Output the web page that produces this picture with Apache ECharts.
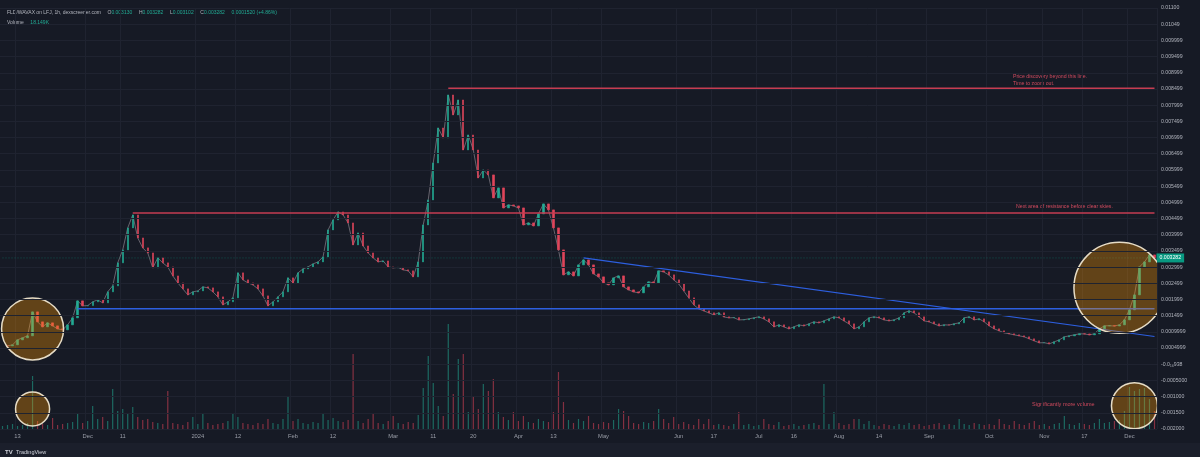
<!DOCTYPE html>
<html>
<head>
<meta charset="utf-8">
<script src="https://cdn.jsdelivr.net/npm/echarts@6/dist/echarts.min.js"></script>
<style>
  html, body { margin: 0; background: #161a25; }
  #chart { width: 1200px; height: 457px; }
</style>
</head>
<body>
<div id="chart"></div>
<script>
// FLD/WAVAX 1h（dexscreener）— 收盤價照圖估讀，單位 1e-6；一根 K 棒 ≈ 5px
const CLOSE_U = [
  null, 568, 599, 753, 815, 877, 1617, 1309, 1154, 1278,
  1185, 1093, 1062, 1216, 1432, 1957, 1803, 1810, 1926, 1988,
  1895, 2235, 2420, 3130, 3531, 4210, 4611, 3901, 3593, 3438,
  2975, 3284, 3130, 3006, 2728, 2512, 2327, 2142, 2235, 2265,
  2389, 2358, 2235, 2080, 1834, 1926, 2049, 2821, 2605, 2512,
  2451, 2327, 2111, 1803, 1926, 2080, 2235, 2667, 2512, 2821,
  2944, 3006, 3098, 3160, 3315, 4148, 4457, 4704, 4611, 4364,
  3685, 4055, 3654, 3438, 3284, 3160, 3191, 3006, 2975, 2990,
  2914, 2884, 2698, 3160, 4302, 5074, 6216, 7296, 6988, 8315,
  7698, 8161, 6617, 7080, 6617, 5753, 6000, 5846, 5136, 5445,
  4827, 4920, 4889, 4827, 4302, 4364, 4272, 4642, 4951, 4766,
  4210, 3531, 2760, 2852, 2728, 3068, 3222, 3068, 2790, 2698,
  2512, 2451, 2667, 2728, 2389, 2296, 2235, 2204, 2389, 2543,
  2512, 2884, 2852, 2760, 2605, 2482, 2265, 2049, 1834, 1710,
  1648, 1587, 1525, 1587, 1463, 1432, 1440, 1370, 1375, 1401,
  1432, 1463, 1401, 1309, 1154, 1216, 1154, 1093, 1154, 1216,
  1185, 1247, 1309, 1278, 1339, 1401, 1463, 1432, 1339, 1247,
  1093, 1154, 1309, 1432, 1463, 1432, 1370, 1339, 1370, 1432,
  1587, 1648, 1587, 1463, 1339, 1309, 1247, 1185, 1216, 1210,
  1247, 1278, 1432, 1463, 1370, 1401, 1309, 1185, 1093, 1031,
  969, 939, 908, 877, 846, 784, 722, 661, 665, 630,
  692, 753, 846, 877, 908, 939, 935, 908, 939, 1093,
  1185, 1190, 1180, 1216, 1370, 1679, 2142, 3006, 3160, 3376,
  3282,
]
// 成交量（K）
const VOL_K = [
  3, 4, 5, 3, 4, 6, 53, 8, 5, 4,
  11, 4, 5, 6, 7, 15, 6, 8, 23, 10,
  12, 8, 40, 18, 20, 15, 22, 12, 9, 10,
  7, 6, 5, 38, 6, 5, 4, 7, 12, 5,
  15, 6, 4, 5, 6, 8, 15, 12, 6, 5,
  4, 6, 5, 10, 6, 5, 10, 33, 8, 10,
  6, 5, 7, 6, 16, 9, 11, 8, 7, 9,
  75, 8, 6, 10, 15, 6, 5, 8, 13, 6,
  5, 7, 6, 14, 41, 73, 46, 23, 13, 105,
  35, 70, 75, 17, 33, 20, 45, 38, 50, 17,
  12, 9, 17, 8, 13, 7, 6, 10, 8, 7,
  17, 57, 27, 9, 6, 10, 8, 13, 6, 5,
  7, 6, 9, 20, 18, 13, 6, 5, 7, 6,
  8, 20, 10, 6, 12, 5, 7, 5, 4, 10,
  5, 10, 4, 5, 4, 3, 5, 17, 4, 5,
  3, 4, 10, 5, 4, 7, 3, 4, 5, 3,
  4, 5, 6, 4, 45, 5, 17, 6, 4, 5,
  10, 10, 5, 8, 4, 3, 5, 4, 3, 5,
  4, 6, 4, 5, 3, 4, 5, 6, 4, 5,
  4, 10, 5, 4, 6, 5, 4, 5, 4, 10,
  5, 4, 8, 5, 4, 6, 8, 4, 5, 3,
  5, 6, 13, 5, 4, 6, 5, 4, 6, 10,
  6, 7, 8, 9, 18, 42, 38, 40, 41, 30,
  18,
]
// X 軸刻度：落在第幾根 K 棒
const TICK_IDX = [3, 17, 24, 39, 47, 58, 66, 78, 86, 94, 103, 110, 120, 135, 142, 151, 158, 167, 175, 185, 197, 208, 216, 225]
const TICK_TXT = ['13', 'Dec', '11', '2024', '12', 'Feb', '12', 'Mar', '11', '20', 'Apr', '13', 'May', 'Jun', '17', 'Jul', '16', 'Aug', '14', 'Sep', 'Oct', 'Nov', '17', 'Dec']
// 右側價格軸（TradingView 原樣，含浮點怪字）
const Y_LABELS = [
  '-0.002000', '-0.001500', '-0.001000', '-0.0005000', '-0.0₁₆938', '0.0004999', '0.0009999',
  '0.001499', '0.001999', '0.002499', '0.002999', '0.003499', '0.003999', '0.004499',
  '0.004999', '0.005499', '0.005999', '0.006499', '0.006999', '0.007499', '0.007999',
  '0.008499', '0.008999', '0.009499', '0.009999', '0.01049', '0.01100',
]
const LAST = 0.003282
// 畫線：[起點 K 棒, 價], [終點 K 棒, 價]
const LINE_DISCOVERY = [[89, 0.00852], [230, 0.00852]]
const LINE_RESIST = [[26, 0.004673], [230, 0.004673]]
const LINE_SUPPORT = [[15, 0.00171], [230, 0.00171]]
const LINE_TREND = [[116, 0.003284], [230, 0.000857]]
const LINE_LAST = [[0, LAST], [230, LAST]]
// 圈選：[K 棒, 價]
const RINGS = [[6, 0.00109], [6, -0.00138], [223, 0.00236], [226, -0.00128]]
const RING_R = [31, 17, 45.5, 23]

const C = {
  bg: '#161a25', grid: '#1f2330', text: '#b2b5be', muted: '#9a9ea8',
  up: '#22ab94', down: '#e0445a', red: '#c63d52', blue: '#2d5fe0', note: '#d04a5e',
}
const FONT = 'Liberation Sans'

const closes = CLOSE_U.map(v => (v == null ? null : v / 1e6))
const candles = closes.map((c, i) => {
  if (c == null) return '-'
  const o = closes[i - 1] == null ? c : closes[i - 1]
  return [o, c, Math.min(o, c), Math.max(o, c)]
})
const isUp = i => candles[i] === '-' || candles[i][1] >= candles[i][0]
const cats = closes.map((_, i) => {
  const k = TICK_IDX.indexOf(i)
  return k < 0 ? '' : TICK_TXT[k]
})
const onTick = idx => TICK_IDX.includes(idx)

const chart = echarts.init(document.getElementById('chart'))
const lineSeries = (data, color, width, extra) => Object.assign({
  type: 'line', data, symbol: 'none', silent: true, z: 3,
  lineStyle: { color, width },
}, extra)

chart.setOption({
  backgroundColor: C.bg,
  animation: false,
  grid: { left: 0, right: 43, top: 8, bottom: 28 },
  xAxis: {
    type: 'category', data: cats, boundaryGap: true,
    axisLine: { lineStyle: { color: '#2a2e39' } },
    axisTick: { show: false },
    axisLabel: { interval: onTick, color: C.muted, fontSize: 5.8, fontFamily: FONT, margin: 4 },
    splitLine: { show: true, interval: onTick, lineStyle: { color: C.grid } },
  },
  yAxis: [
    {
      type: 'value', position: 'right', min: -0.002, max: 0.011, interval: 0.0005, z: 10,
      axisLine: { show: false }, axisTick: { show: false },
      axisLabel: {
        color: C.text, fontSize: 5.2, fontFamily: FONT, margin: 4,
        formatter: v => Y_LABELS[Math.round((v + 0.002) / 0.0005)] || '',
      },
      splitLine: { lineStyle: { color: C.grid } },
    },
    { type: 'value', show: false, min: 0, max: 421 },
  ],
  series: [
    {
      type: 'bar', yAxisIndex: 1, barWidth: 1.2, z: 1, silent: true,
      data: VOL_K.map((v, i) => ({
        value: v,
        itemStyle: { color: isUp(i) ? 'rgba(34,171,148,0.55)' : 'rgba(224,68,90,0.55)' },
      })),
    },
    // 收盤連線：把細 K 棒串成連續的走勢
    lineSeries(closes, 'rgba(170,160,170,0.55)', 1, { z: 2 }),
    {
      type: 'candlestick', data: candles, barWidth: 1.8, z: 2, silent: true,
      itemStyle: { color: C.up, color0: C.down, borderColor: C.up, borderColor0: C.down, borderWidth: 0.6 },
    },
    // 最新價虛線＋右側價格框
    lineSeries(LINE_LAST, '#089981', 1, {
      z: 2,
      lineStyle: { color: '#089981', width: 1, type: [1, 2], opacity: 0.45 },
      endLabel: {
        show: true, distance: 2, formatter: String(LAST),
        backgroundColor: '#089981', color: '#ffffff', fontSize: 5.2, fontFamily: FONT, padding: [2, 3],
      },
    }),
    lineSeries(LINE_DISCOVERY, C.red, 1.5),
    lineSeries(LINE_RESIST, C.red, 1.5),
    lineSeries(LINE_SUPPORT, C.blue, 1.5),
    lineSeries(LINE_TREND, C.blue, 1.2),
    {
      type: 'custom', clip: true, z: 4, silent: true, data: RINGS,
      renderItem: (params, api) => {
        const p = api.coord([api.value(0), api.value(1)])
        return {
          type: 'circle',
          shape: { cx: p[0], cy: p[1], r: RING_R[params.dataIndex] },
          style: { fill: 'rgba(255,152,0,0.33)', stroke: '#e6dcc6', lineWidth: 1.5 },
        }
      },
    },
  ],
  graphic: [
    {
      type: 'rect', left: 0, top: 443, z: -1, silent: true,
      shape: { width: 1200, height: 14 }, style: { fill: '#1b1f2b' },
    },
    {
      type: 'text', left: 7, top: 7, silent: true,
      style: {
        text: '{g|FLD/WAVAX on LFJ, 1h, dexscreener.com}  {g|O}{v|0.003130}  {g|H}{v|0.003282}  {g|L}{v|0.003102}  {g|C}{v|0.003282}  {v|0.0001520 (+4.86%)}',
        rich: {
          g: { fill: C.text, fontSize: 5, fontFamily: FONT },
          v: { fill: C.up, fontSize: 5, fontFamily: FONT },
        },
      },
    },
    {
      type: 'text', left: 7, top: 17, silent: true,
      style: {
        text: '{g|Volume}  {v|18.149K}',
        rich: {
          g: { fill: C.text, fontSize: 5, fontFamily: FONT },
          v: { fill: C.up, fontSize: 5, fontFamily: FONT },
        },
      },
    },
    {
      type: 'text', left: 1013, top: 73, silent: true,
      style: { text: 'Price discovery beyond this line.\nTime to zoom out.', fill: C.note, fontSize: 5.2, fontFamily: FONT, lineHeight: 7 },
    },
    {
      type: 'text', left: 1016, top: 204, silent: true,
      style: { text: 'Next area of resistance before clear skies.', fill: C.note, fontSize: 5.2, fontFamily: FONT },
    },
    {
      type: 'text', left: 1032, top: 401, silent: true,
      style: { text: 'Significantly more volume', fill: C.note, fontSize: 5.5, fontFamily: FONT },
    },
    {
      type: 'text', left: 5, top: 446, silent: true,
      style: { text: '{b|TV} {t|TradingView}', rich: {
        b: { fill: '#d1d4dc', fontSize: 6, fontWeight: 'bold', fontFamily: FONT },
        t: { fill: '#d1d4dc', fontSize: 5.5, fontFamily: FONT },
      } },
    },
  ],
})
</script>
</body>
</html>
